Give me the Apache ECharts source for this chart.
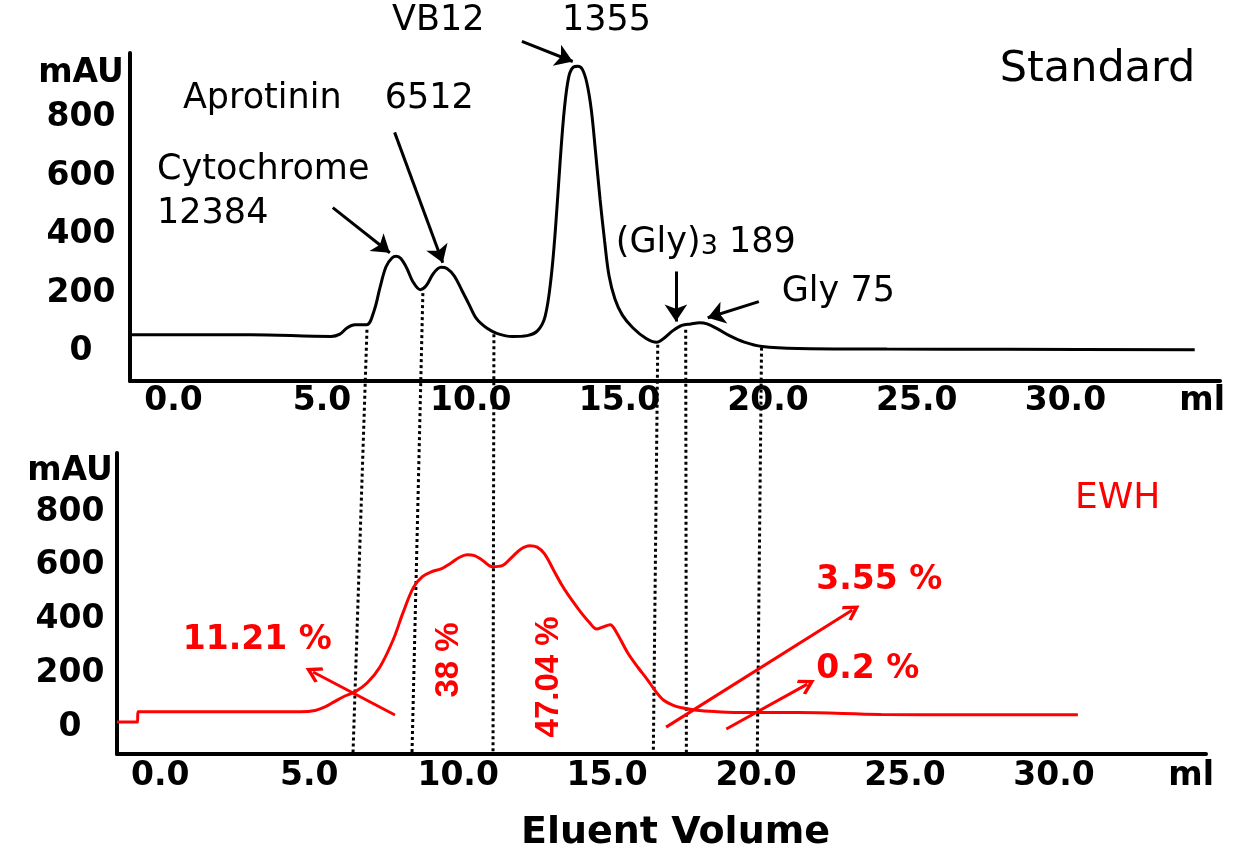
<!DOCTYPE html>
<html>
<head>
<meta charset="utf-8">
<script src="https://cdn.jsdelivr.net/npm/echarts@6/dist/echarts.min.js"></script>
<style>
  html, body { margin: 0; background: #fff; }
  #main { width: 1245px; height: 859px; }
</style>
</head>
<body>
<div id="main"></div>
<script>
// tick labels
const xTicks = [0, 5, 10, 15, 20, 25, 30]
const xUnitAt = 34.6
const yTicks = [0, 200, 400, 600, 800]
const yUnitAt = 950

// Standard chromatogram (ml, mAU)
const stdVolume = [-1.46, 2.6, 5.3, 5.6, 5.85, 6.1, 6.5, 6.75, 6.95, 7.15, 7.35, 7.5, 7.65, 7.85, 8.05, 8.3, 8.5, 8.75, 9.0, 9.2, 9.45, 9.7, 9.95, 10.2, 10.55, 10.9, 11.4, 11.9, 12.25, 12.5, 12.7, 12.85, 13.0, 13.15, 13.3, 13.45, 13.6, 13.75, 13.9, 14.05, 14.2, 14.35, 14.5, 14.65, 14.85, 15.1, 15.45, 15.9, 16.25, 16.5, 16.8, 17.1, 17.4, 17.7, 17.95, 18.3, 18.7, 19.2, 19.8, 21, 24, 28, 34.35]
const stdAbs = [58, 58, 52, 60, 82, 92, 92, 140, 220, 290, 320, 326, 318, 285, 240, 212, 225, 268, 288, 284, 258, 210, 160, 112, 80, 62, 52, 55, 72, 120, 250, 420, 640, 830, 940, 972, 975, 965, 920, 830, 680, 520, 380, 260, 180, 125, 82, 45, 32, 46, 72, 90, 95, 99, 95, 78, 55, 33, 18, 11, 9, 8, 7]

// EWH chromatogram (ml, mAU)
const ewhVolume = [-1.45, -0.76, -0.75, 4.7, 5.2, 5.55, 5.85, 6.15, 6.55, 6.95, 7.38, 7.82, 8.15, 8.5, 8.8, 9.1, 9.45, 9.75, 10.05, 10.3, 10.55, 10.8, 11.15, 11.5, 11.8, 12.1, 12.4, 12.65, 12.9, 13.2, 13.5, 13.8, 14.1, 14.4, 14.65, 14.85, 15.1, 15.3, 15.7, 16.05, 16.35, 16.65, 16.9, 17.2, 17.5, 18, 18.6, 19.7, 21.4, 24.2, 27, 30.8]
const ewhAbs = [19, 19, 57, 57, 62, 76, 95, 113, 132, 165, 225, 325, 426, 520, 560, 578, 590, 610, 632, 641, 638, 622, 597, 602, 632, 662, 675, 670, 645, 585, 525, 475, 430, 390, 365, 372, 381, 355, 275, 220, 177, 130, 100, 82, 72, 63, 58, 54, 54, 47, 46, 46]

// fraction cut volumes (top panel / bottom panel) and where the cut starts on the standard trace
const cutTop = [6.51, 8.39, 10.78, 16.29, 17.23, 19.78]
const cutTopLevel = [75, 200, 60, 24, 75, 14]
const cutBottom = [6.47, 8.45, 11.17, 16.55, 17.66, 20.04]

// annotation texts and anchors
const stdNotes = [
  { name: 'VB12', value: [7.35, 1128] },
  { name: '1355', value: [13.07, 1128] },
  { name: 'Aprotinin', value: [0.32, 862] },
  { name: '6512', value: [7.11, 862] },
  { name: 'Cytochrome', value: [-0.55, 622] },
  { name: '12384', value: [-0.55, 472] },
  { name: '(Gly){s|3} 189', value: [14.88, 373] },
  { name: 'Gly 75', value: [20.46, 205] }
]
const stdTitle = { name: 'Standard', value: [27.79, 964] }
const stdArrows = [
  [[11.72, 1060], [13.43, 991]],
  [[7.44, 749], [9.06, 304]],
  [[5.36, 492], [7.28, 338]],
  [[16.9, 274], [16.9, 103]],
  [[19.69, 171], [17.97, 116]]
]
const ewhNotes = [
  { name: '11.21 %', value: [0.76, 324] },
  { name: '3.55 %', value: [22.02, 547] },
  { name: '0.2 %', value: [22.02, 213] }
]
const ewhVertical = [
  { name: '38 %', value: [9.7, 250] },
  { name: '47.04 %', value: [13.06, 187] }
]
const ewhTitle = { name: 'EWH', value: [30.7, 852] }
const ewhArrows = [
  [[7.88, 45], [5.13, 205]],
  [[16.98, 0], [23.23, 436]],
  [[19.0, -7], [21.72, 160]]
]

const FONT = 'DejaVu Sans'
const tickFont = { fontFamily: FONT, fontWeight: 'bold', fontSize: 33, color: '#000' }
// open chevron head used for the red arrows
const CHEVRON = 'path://M10,0 L20,12 L17.2,14 L10,5.6 L2.8,14 L0,12 Z'

const zip = (xs, ys) => xs.map((x, i) => [x, ys[i]])

const xAxisFor = (gridIndex, min, max, margin, extra) => ({
  gridIndex, type: 'value', min, max,
  axisLine: { show: true, onZero: false, lineStyle: { color: '#000', width: 4 } },
  axisTick: { show: false },
  splitLine: { show: false },
  axisLabel: {
    customValues: [...xTicks, xUnitAt],
    formatter: v => (v === xUnitAt ? 'ml' : v.toFixed(1)),
    margin,
    ...tickFont
  },
  ...extra
})

const yAxisFor = (gridIndex, margin) => ({
  gridIndex, type: 'value', min: -100, max: 1020,
  axisLine: { show: true, onZero: false, lineStyle: { color: '#000', width: 4 } },
  axisTick: { show: false },
  splitLine: { show: false },
  axisLabel: {
    customValues: [...yTicks, yUnitAt],
    formatter: v => (v === yUnitAt ? 'mAU' : String(v)),
    align: 'center',
    margin,
    ...tickFont
  }
})

const arrowSeries = (idx, pairs, color, head) => ({
  type: 'lines',
  coordinateSystem: 'cartesian2d',
  xAxisIndex: idx,
  yAxisIndex: idx,
  silent: true,
  clip: false,
  symbol: ['none', head],
  symbolSize: 17,
  lineStyle: { color, width: 3, opacity: 1, curveness: 0 },
  data: pairs.map(([a, b]) => ({ coords: [a, b] })),
  z: 5
})

const textSeries = (idx, items, color, size, weight, extra) => ({
  type: 'scatter',
  xAxisIndex: idx,
  yAxisIndex: idx,
  silent: true,
  clip: false,
  symbolSize: 0,
  itemStyle: { color: 'rgba(0,0,0,0)' },
  label: {
    show: true,
    position: 'right',
    distance: 0,
    color,
    opacity: 1,
    fontSize: size,
    fontWeight: weight,
    fontFamily: FONT,
    formatter: p => p.name,
    ...extra
  },
  data: items,
  z: 6
})

const option = {
  animation: false,
  backgroundColor: '#fff',
  grid: [
    { left: 130, right: 25, top: 53, height: 328 },
    { left: 117, right: 39, top: 453, height: 301 }
  ],
  xAxis: [
    xAxisFor(0, -1.46, 35.2, 4),
    xAxisFor(1, -1.45, 35.1, 6, {
      name: 'Eluent Volume',
      nameLocation: 'middle',
      nameGap: 60,
      nameTextStyle: { fontFamily: FONT, fontWeight: 'bold', fontSize: 38, color: '#000', padding: [0, 0, 0, 28] }
    })
  ],
  yAxis: [yAxisFor(0, 49), yAxisFor(1, 47)],
  series: [
    {
      name: 'Standard',
      type: 'line',
      xAxisIndex: 0,
      yAxisIndex: 0,
      data: zip(stdVolume, stdAbs),
      smooth: 0.35,
      symbol: 'none',
      clip: false,
      lineStyle: { color: '#000', width: 3 }
    },
    {
      name: 'EWH',
      type: 'line',
      xAxisIndex: 1,
      yAxisIndex: 1,
      data: zip(ewhVolume, ewhAbs),
      smooth: 0.35,
      symbol: 'none',
      clip: false,
      lineStyle: { color: '#ff0000', width: 3 }
    },
    arrowSeries(0, stdArrows, '#000', 'arrow'),
    arrowSeries(1, ewhArrows, '#ff0000', CHEVRON),
    textSeries(0, stdNotes, '#000', 35, 'normal', {
      rich: { s: { fontFamily: FONT, fontSize: 27, color: '#000', padding: [9, 0, 0, 0] } }
    }),
    textSeries(0, [stdTitle], '#000', 43, 'normal'),
    textSeries(1, ewhNotes, '#ff0000', 33, 'bold'),
    textSeries(1, ewhVertical, '#ff0000', 33, 'bold', {
      position: 'inside',
      rotate: 90,
      align: 'center',
      verticalAlign: 'middle',
      fontFamily: 'Liberation Sans'
    }),
    textSeries(1, [ewhTitle], '#ff0000', 36, 'normal')
  ]
}

const chart = echarts.init(document.getElementById('main'))
chart.setOption(option)

// dotted fraction lines running from the standard trace down to the EWH axis
const connectors = cutTop.map((v, i) => {
  const p0 = chart.convertToPixel({ gridIndex: 0 }, [v, cutTopLevel[i]])
  const p1 = chart.convertToPixel({ gridIndex: 1 }, [cutBottom[i], -100])
  return {
    type: 'line',
    silent: true,
    z: 1,
    shape: { x1: p0[0], y1: p0[1], x2: p1[0], y2: p1[1] },
    style: { stroke: '#000', lineWidth: 3, lineDash: [3, 3] }
  }
})
chart.setOption({ graphic: connectors })
</script>
</body>
</html>
